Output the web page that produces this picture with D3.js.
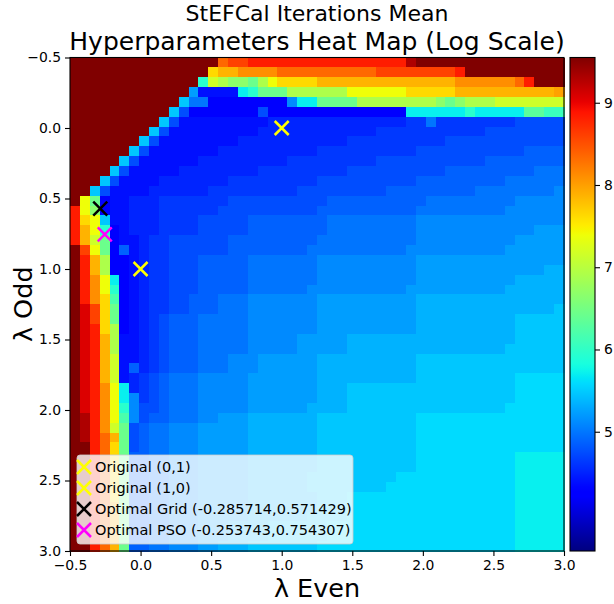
<!DOCTYPE html>
<html>
<head>
<meta charset="utf-8">
<script src="https://cdn.jsdelivr.net/npm/d3@7"></script>
<style>
  body { margin: 0; background: #fff; }
  svg { display: block; font-family: "DejaVu Sans", sans-serif; }
</style>
</head>
<body>
<svg id="chart" width="614" height="604"></svg>
<script>
// ---- data ----
var xExtent = [-0.5, 3.0];
var yExtent = [-0.5, 3.0];
var xTicks = [-0.5, 0.0, 0.5, 1.0, 1.5, 2.0, 2.5, 3.0];
var yTicks = [-0.5, 0.0, 0.5, 1.0, 1.5, 2.0, 2.5, 3.0];
var cbTicks = [5, 6, 7, 8, 9];
var vMin = 3.55, vMax = 9.55;

// one char per cell: its place in the colour range, 0 (vMin) .. 50 (vMax)
var levelChars = "0123456789abcdefghijklmnopqrstuvwxyzABCDEFGHIJKLMNO";
// each row top to bottom, run length coded: level char + repeat count
var gridRows = [
  "O15 E G2 I16 M O15",
  "O14 y A2 C4 E10 G8 I O10",
  "O13 k u s q2 o s w y4 A14 C6 E I O3",
  "O12 e 74 i k o3 s6 w6 y5 A10 B",
  "O11 g c2 68 d i2 o4 s8 q o q s3 u7",
  "O10 g a 67 a 614 i6 k i5 n2 l2",
  "O9 g a 79 814 92 c 98 a5",
  "O8 g a 79 812 911 a8",
  "O7 g a 78 811 910 a12",
  "O6 g a 77 810 910 a11 b4",
  "O5 g a 76 89 99 a11 b8",
  "O4 g a 75 88 99 a10 b9 c3",
  "O3 g a 74 87 99 a10 b9 c6",
  "O2 g a 74 86 99 a9 b9 c8 d",
  "O w o 6 72 83 97 a10 b10 c9 d5",
  "I w q 6 72 83 96 a10 b10 c9 d6",
  "I y w g 72 83 94 a5 b8 c9 d15",
  "I A w k 6 7 83 94 a5 b8 c9 d12 e3",
  "I A u o 6 72 8 92 a6 b9 c10 d10 e5",
  "O G w o 6 b 7 8 92 a6 b8 c10 d10 e6",
  "O I A s 62 7 8 92 a3 b5 c7 d10 e15",
  "O I A s 62 7 8 92 a3 b5 c7 d10 e13 f2",
  "O I C w i 6 7 8 92 a3 b5 c7 d10 e10 f5",
  "O I C w k 6 7 8 92 a3 b5 c6 d10 e10 f6",
  "O I C y m 6 7 8 92 a2 b3 c3 d7 e10 f15",
  "O K G y o 6 7 8 92 a2 b3 c3 d7 e10 f14 g",
  "O K G y o 6 7 8 9 a b3 c5 d7 e10 f10 g5",
  "O K I y s 6 7 8 9 a b3 c5 d7 e10 f10 g5",
  "O K I A s 72 8 9 a b3 c5 d5 e5 f17 g5",
  "O K I A s 72 8 9 a b3 c5 d5 e5 f16 g6",
  "O K I A u 72 8 9 a b3 c3 d3 e6 f10 g15",
  "O K I A u 7 b 8 9 a b3 c3 d3 e6 f10 g15",
  "O K I A u 7 8 9 a b c3 d5 e7 f10 g10 h5",
  "O K I C w i 8 9 a b c3 d5 e7 f3 g17 h5",
  "O K I C w i d 9 a b c3 d5 e7 f3 g17 h5",
  "O K I C w k d a2 b c3 d5 e6 f4 g16 h6",
  "O M I C w m d a b2 c3 d2 e3 f7 g10 h15",
  "O M I C u o a b c2 d3 e5 f7 g10 h15",
  "O M I E A o a b c2 d3 e5 f7 g10 h15",
  "O2 I E y o a b c2 d3 e5 f7 g10 h15",
  "O2 I E y o b2 c2 d3 e5 f7 g10 h10 i5",
  "O2 I E y o b2 c2 d3 e5 f7 g10 h10 i5",
  "O2 I E y o b2 c2 d3 e5 f6 g9 h12 i5",
  "O2 I E y o b2 c2 d3 e5 f6 g8 h13 i5",
  "O2 I E y o b2 c2 d3 e5 f7 g3 h17 i5",
  "O2 I E A o b2 c2 d3 e5 f7 g3 h17 i5",
  "O2 I E A o b2 c2 d3 e5 f6 g4 h17 i5",
  "O2 I E A o b2 c2 d3 e3 f4 g6 h19 i5",
  "O2 I E A o b2 c2 d3 e3 f4 g6 h19 i5",
  "O2 I E A o b2 c2 d3 e2 f3 g7 h20 i5"
];

var markerNames = ["Original (0,1)", "Original (1,0)",
                   "Optimal Grid (-0.285714,0.571429)", "Optimal PSO (-0.253743,0.754307)"];
var markerX = [0, 1, -0.285714, -0.253743];
var markerY = [1, 0, 0.571429, 0.754307];
var markerColors = ["#ffff00", "#ffff00", "#000000", "#ff00ff"];

// ---- layout ----
var svg = d3.select("#chart");
var plot = {left: 70, top: 57.5, right: 564, bottom: 551};
var cb = {left: 570, right: 595};

var x = d3.scaleLinear().domain(xExtent).range([plot.left, plot.right]);
var y = d3.scaleLinear().domain(yExtent).range([plot.top, plot.bottom]);

// jet colormap as three piecewise linear channels
var jetR = d3.scaleLinear().domain([0, 0.35, 0.66, 0.89, 1]).range([0, 0, 1, 1, 0.5]).clamp(true);
var jetG = d3.scaleLinear().domain([0, 0.125, 0.375, 0.64, 0.91, 1]).range([0, 0, 1, 1, 0, 0]).clamp(true);
var jetB = d3.scaleLinear().domain([0, 0.11, 0.34, 0.65, 1]).range([0.5, 1, 1, 0, 0]).clamp(true);
function jet(t) {
  return d3.rgb(255 * jetR(t), 255 * jetG(t), 255 * jetB(t)).toString();
}
var norm = d3.scaleLinear().domain([vMin, vMax]).range([0, 1]).clamp(true);
var color = function(v) { return jet(norm(v)); };

// decode the rows into cells
var cells = [];
gridRows.forEach(function(row, r) {
  var c = 0;
  row.split(" ").forEach(function(tok) {
    var k = levelChars.indexOf(tok[0]);
    var n = tok.length > 1 ? +tok.slice(1) : 1;
    for (var i = 0; i < n; i++) {
      cells.push({r: r, c: c, v: vMin + k / 50 * (vMax - vMin)});
      c++;
    }
  });
});
var nRows = gridRows.length, nCols = 50;
var dx = (xExtent[1] - xExtent[0]) / nCols;
var dy = (yExtent[1] - yExtent[0]) / nRows;

svg.append("g")
  .attr("shape-rendering", "crispEdges")
  .selectAll("rect")
  .data(cells)
  .enter()
  .append("rect")
  .attr("x", function(d) { return x(xExtent[0] + d.c * dx); })
  .attr("y", function(d) { return y(yExtent[0] + d.r * dy); })
  .attr("width", function(d) { return x(xExtent[0] + (d.c + 1) * dx) - x(xExtent[0] + d.c * dx) + 0.5; })
  .attr("height", function(d) { return y(yExtent[0] + (d.r + 1) * dy) - y(yExtent[0] + d.r * dy) + 0.5; })
  .attr("fill", function(d) { return color(d.v); });

// markers
var xPath = "M-7,-7L7,7M-7,7L7,-7";
svg.append("g")
  .selectAll("path")
  .data(markerNames)
  .enter()
  .append("path")
  .attr("d", xPath)
  .attr("transform", function(d, i) { return "translate(" + x(markerX[i]) + "," + y(markerY[i]) + ")"; })
  .attr("stroke", function(d, i) { return markerColors[i]; })
  .attr("stroke-width", 2.5)
  .attr("fill", "none");

// legend
var leg = svg.append("g");
leg.append("rect")
  .attr("x", 77).attr("y", 455).attr("width", 276).attr("height", 89)
  .attr("rx", 3)
  .attr("fill", "white").attr("fill-opacity", 0.8)
  .attr("stroke", "#cccccc").attr("stroke-opacity", 0.8);
markerNames.forEach(function(name, i) {
  var ly = 467 + i * 21;
  leg.append("path")
    .attr("d", xPath)
    .attr("transform", "translate(84," + ly + ")")
    .attr("stroke", markerColors[i]).attr("stroke-width", 2.5).attr("fill", "none");
  leg.append("text")
    .attr("x", 95).attr("y", ly + 5)
    .attr("font-size", "14.5px")
    .text(name);
});

// spines
svg.append("rect")
  .attr("x", plot.left).attr("y", plot.top)
  .attr("width", plot.right - plot.left).attr("height", plot.bottom - plot.top)
  .attr("fill", "none").attr("stroke", "black").attr("stroke-width", 1.1);

// axes
var fmt = d3.format(".1f");
var xAxis = svg.append("g")
  .attr("transform", "translate(0," + plot.bottom + ")")
  .call(d3.axisBottom(x).tickValues(xTicks).tickFormat(fmt).tickSize(5).tickPadding(4));
var yAxis = svg.append("g")
  .attr("transform", "translate(" + plot.left + ",0)")
  .call(d3.axisLeft(y).tickValues(yTicks).tickFormat(fmt).tickSize(5).tickPadding(4));
[xAxis, yAxis].forEach(function(g) {
  g.select(".domain").remove();
  g.selectAll("text").attr("font-size", "13.9px").attr("font-family", "DejaVu Sans").attr("fill", "black");
  g.selectAll("line").attr("stroke-width", 1.1);
});

// colorbar
var cbScale = d3.scaleLinear().domain([vMin, vMax]).range([plot.bottom, plot.top]);
var grad = svg.append("defs").append("linearGradient")
  .attr("id", "cbgrad").attr("x1", 0).attr("y1", 1).attr("x2", 0).attr("y2", 0);
d3.range(0, 1.0001, 0.01).forEach(function(t) {
  grad.append("stop").attr("offset", t).attr("stop-color", jet(t));
});
svg.append("rect")
  .attr("x", cb.left).attr("y", plot.top)
  .attr("width", cb.right - cb.left).attr("height", plot.bottom - plot.top)
  .attr("fill", "url(#cbgrad)")
  .attr("stroke", "black").attr("stroke-width", 1.1);
var cbAxis = svg.append("g")
  .attr("transform", "translate(" + cb.right + ",0)")
  .call(d3.axisRight(cbScale).tickValues(cbTicks).tickFormat(d3.format("d")).tickSize(5).tickPadding(4));
cbAxis.select(".domain").remove();
cbAxis.selectAll("text").attr("font-size", "13.9px").attr("font-family", "DejaVu Sans").attr("fill", "black");
cbAxis.selectAll("line").attr("stroke-width", 1.1);

// title and labels
var cx = (plot.left + plot.right) / 2;
svg.append("text")
  .attr("x", cx).attr("y", 21)
  .attr("text-anchor", "middle")
  .attr("font-size", "22px")
  .text("StEFCal Iterations Mean");
svg.append("text")
  .attr("x", cx).attr("y", 50)
  .attr("text-anchor", "middle")
  .attr("font-size", "25px")
  .text("Hyperparameters Heat Map (Log Scale)");

svg.append("text")
  .attr("x", cx).attr("y", 597)
  .attr("text-anchor", "middle")
  .attr("font-size", "25.5px")
  .text("λ Even");
svg.append("text")
  .attr("transform", "translate(32," + ((plot.top + plot.bottom) / 2) + ") rotate(-90)")
  .attr("text-anchor", "middle")
  .attr("font-size", "25.5px")
  .text("λ Odd");
</script>
</body>
</html>
